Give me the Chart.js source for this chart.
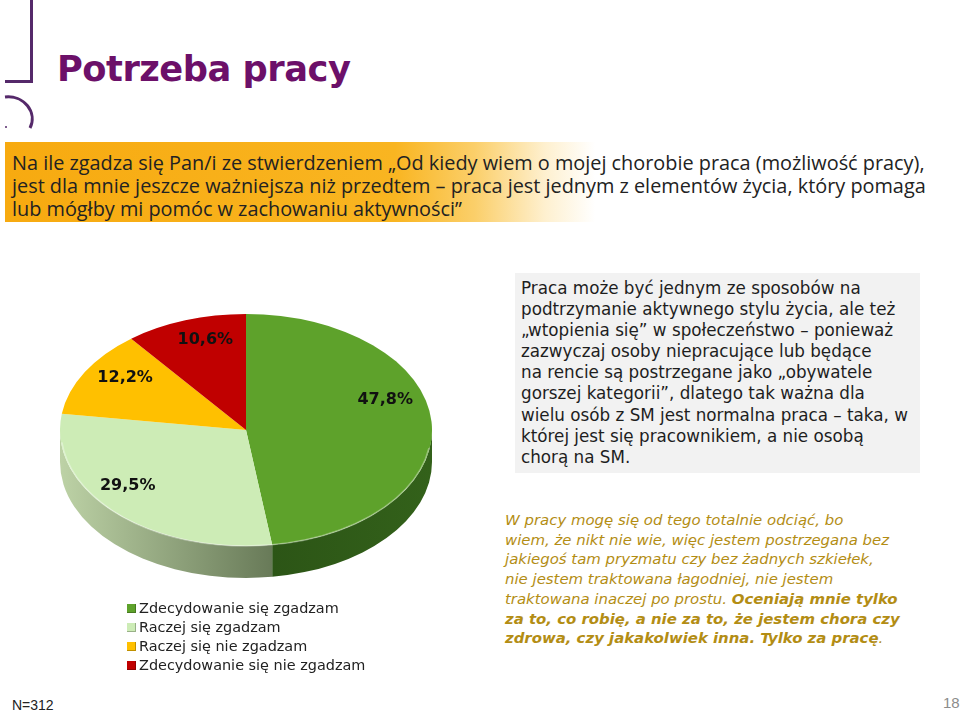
<!DOCTYPE html>
<html lang="pl">
<head>
<meta charset="utf-8">
<title>Potrzeba pracy</title>
<script src="https://cdn.jsdelivr.net/npm/chart.js@4.4.1/dist/chart.umd.min.js"></script>
<style>
  html, body { margin: 0; padding: 0; background: #fff; }
  body { width: 960px; height: 713px; position: relative; overflow: hidden; font-family: "DejaVu Sans", sans-serif; }
  .abs { position: absolute; }
  .fit { width: max-content; white-space: nowrap; }
  .logo { left: 0; top: 0; }
  h1 { position: absolute; left: 57px; top: 47px; margin: 0; font: bold 38px/44px "DejaVu Sans", sans-serif; color: #6c1069; letter-spacing: -0.5px; }
  .question { left: 5px; top: 142px; width: 950px; height: 80px;
    background: linear-gradient(to right, #f7aa10 0, #f9b521 390px, #fbcf6a 470px, #fef0cf 540px, #fff 590px); }
  .question .txt { position: absolute; left: 7px; top: 9px; font: 18px/23px "Open Sans", sans-serif; color: #222; }
  .note { left: 515px; top: 273px; width: 405px; height: 200px; background: #f2f2f2; }
  .note .txt { position: absolute; left: 6px; top: 5px; font: 16px/21.1px "DejaVu Sans", sans-serif; color: #1e1e1e; }
  .quote { left: 505px; top: 511px; font: italic 15px/19.7px "DejaVu Sans", sans-serif; color: #b38d14; }
  .quote b { font-weight: bold; }
  #chartWrap { left: 60px; top: 244px; width: 372px; height: 372px; }
  #legend { left: 127px; top: 599px; font: 15px/19px "DejaVu Sans", sans-serif; color: #222; }
  #legend .item { display: flex; align-items: center; }
  #legend .box { width: 9px; height: 9px; margin-right: 3px; box-shadow: inset -1px -1px 0 rgba(0,0,0,.25); }
  .n { left: 12px; top: 697px; font: 14px "Liberation Sans", sans-serif; color: #222; }
  .page { left: 943px; top: 694px; font: 15px "Liberation Sans", sans-serif; color: #8c8c8c; }
</style>
</head>
<body>

<svg class="abs logo" width="50" height="135" viewBox="0 0 50 135">
  <path d="M31.5 0 V81.5 H5" fill="none" stroke="#55296a" stroke-width="3"/>
  <path d="M5 97 A24 22 0 0 1 30 128" fill="none" stroke="#55296a" stroke-width="3"/>
  <circle cx="6" cy="127" r="1" fill="#55296a"/>
</svg>

<h1 class="fit" data-w="294">Potrzeba pracy</h1>

<div class="abs question">
  <div class="txt fit" data-w="914">
    Na ile zgadza się Pan/i ze stwierdzeniem „Od kiedy wiem o mojej chorobie praca (możliwość pracy),<br>
    jest dla mnie jeszcze ważniejsza niż przedtem – praca jest jednym z elementów życia, który pomaga<br>
    lub mógłby mi pomóc w zachowaniu aktywności”
  </div>
</div>

<div class="abs note">
  <div class="txt fit" data-w="387">
    Praca może być jednym ze sposobów na<br>
    podtrzymanie aktywnego stylu życia, ale też<br>
    „wtopienia się” w społeczeństwo – ponieważ<br>
    zazwyczaj osoby niepracujące lub będące<br>
    na rencie są postrzegane jako „obywatele<br>
    gorszej kategorii”, dlatego tak ważna dla<br>
    wielu osób z SM jest normalna praca – taka, w<br>
    której jest się pracownikiem, a nie osobą<br>
    chorą na SM.
  </div>
</div>

<div class="abs quote fit" data-w="395">
  W pracy mogę się od tego totalnie odciąć, bo<br>
  wiem, że nikt nie wie, więc jestem postrzegana bez<br>
  jakiegoś tam pryzmatu czy bez żadnych szkiełek,<br>
  nie jestem traktowana łagodniej, nie jestem<br>
  traktowana inaczej po prostu. <b>Oceniają mnie tylko<br>
  za to, co robię, a nie za to, że jestem chora czy<br>
  zdrowa, czy jakakolwiek inna. Tylko za pracę</b>.
</div>

<div class="abs" id="chartWrap"><canvas id="pie" width="372" height="372"></canvas></div>
<div class="abs fit" id="legend" data-w="238"></div>

<div class="abs n">N=312</div>
<div class="abs page">18</div>

<script>
  // answers and shares (%), N=312
  const categories = ["Zdecydowanie się zgadzam", "Raczej się zgadzam", "Raczej się nie zgadzam", "Zdecydowanie się nie zgadzam"];
  const shares = [47.8, 29.5, 12.2, 10.6];

  // look of the slices
  const topColors = ["#5ea22b", "#cdecb6", "#ffc000", "#c00000"];
  const sideColors = [["#2c5516", "#33611a"], ["#bdd2a6", "#687a58"], ["#c89600", "#9c7400"], ["#8c0000", "#640000"]];
  const labelRadius = [0.75, 0.9, 0.75, 0.67];
  const labelLift = [24, 18, 9, 17];

  const fmt = (v) => v.toFixed(1).replace(".", ",") + "%";

  const pie3d = {
    id: "pie3d",
    beforeDatasetsDraw(chart, args, opts) {
      const ctx = chart.ctx;
      const arcs = chart.getDatasetMeta(0).data;
      if (!arcs.length) return;
      const { x: cx, y: cy, outerRadius: r } = arcs[0];
      const ry = r * opts.tilt;

      // side wall, only the front half shows
      arcs.forEach((arc, i) => {
        [0, -2 * Math.PI].forEach((shift) => {
          const s = Math.max(arc.startAngle + shift, 0);
          const e = Math.min(arc.endAngle + shift, Math.PI);
          if (e <= s) return;
          const x0 = cx + r * Math.cos(e), x1 = cx + r * Math.cos(s);
          const g = ctx.createLinearGradient(x0, 0, x1, 0);
          g.addColorStop(0, sideColors[i][0]);
          g.addColorStop(1, sideColors[i][1]);
          ctx.beginPath();
          ctx.ellipse(cx, cy, r, ry, 0, s, e);
          ctx.ellipse(cx, cy + opts.depth, r, ry, 0, e, s, true);
          ctx.closePath();
          ctx.fillStyle = g;
          ctx.fill();
        });
      });

      ctx.save();
      ctx.translate(cx, cy);
      ctx.scale(1, opts.tilt);
      ctx.translate(-cx, -cy);
    },
    afterDatasetsDraw(chart, args, opts) {
      const ctx = chart.ctx;
      ctx.restore();
      const arcs = chart.getDatasetMeta(0).data;
      if (!arcs.length) return;
      const { x: cx, y: cy, outerRadius: r } = arcs[0];

      // light rim on the front edge
      ctx.beginPath();
      ctx.ellipse(cx, cy + 1, r - 1, r * opts.tilt - 1, 0, 0.15, Math.PI - 0.1);
      ctx.strokeStyle = "rgba(255,255,255,.35)";
      ctx.lineWidth = 1.5;
      ctx.stroke();

      ctx.font = "bold 16px 'DejaVu Sans', sans-serif";
      ctx.fillStyle = "#111";
      ctx.textAlign = "center";
      ctx.textBaseline = "middle";
      arcs.forEach((arc, i) => {
        const mid = (arc.startAngle + arc.endAngle) / 2;
        const d = r * labelRadius[i];
        const x = cx + d * Math.cos(mid);
        const y = cy + d * Math.sin(mid) * opts.tilt - labelLift[i];
        ctx.fillText(fmt(chart.data.datasets[0].data[i]), x, y);
      });
    }
  };

  const chart = new Chart(document.getElementById("pie"), {
    type: "pie",
    data: {
      labels: categories,
      datasets: [{ data: shares, backgroundColor: topColors, borderWidth: 0 }]
    },
    options: {
      responsive: false,
      animation: false,
      events: [],
      layout: { padding: 0 },
      plugins: {
        legend: { display: false },
        tooltip: { enabled: false },
        pie3d: { tilt: 116 / 186, depth: 32 }
      }
    },
    plugins: [pie3d]
  });

  // legend built from the chart's own legend items
  const legendEl = document.getElementById("legend");
  Chart.overrides.pie.plugins.legend.labels.generateLabels(chart).forEach((item) => {
    const row = document.createElement("div");
    row.className = "item";
    const box = document.createElement("span");
    box.className = "box";
    box.style.background = item.fillStyle;
    row.appendChild(box);
    row.appendChild(document.createTextNode(item.text));
    legendEl.appendChild(row);
  });

  // size text blocks to the widths measured on the slide
  document.querySelectorAll(".fit[data-w]").forEach((el) => {
    const size = parseFloat(getComputedStyle(el).fontSize);
    const w = el.getBoundingClientRect().width;
    el.style.fontSize = (size * Number(el.dataset.w) / w).toFixed(2) + "px";
  });
</script>
</body>
</html>
